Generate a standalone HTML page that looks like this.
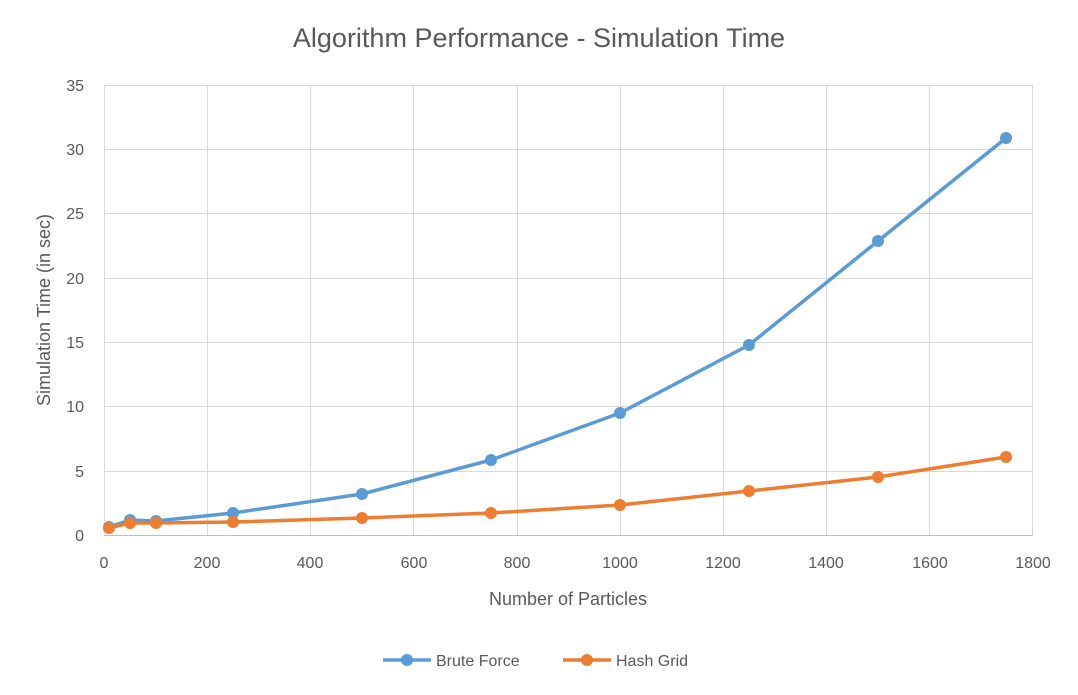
<!DOCTYPE html>
<html><head><meta charset="utf-8"><style>
html,body{margin:0;padding:0;background:#fff;}
svg{display:block;font-family:"Liberation Sans",sans-serif;}
</style></head><body>
<svg width="1078" height="695" viewBox="0 0 1078 695" xmlns="http://www.w3.org/2000/svg">
<rect width="1078" height="695" fill="#fff"/>
<text x="539" y="47" text-anchor="middle" font-size="27" fill="#595959">Algorithm Performance - Simulation Time</text>
<g stroke="#d9d9d9" stroke-width="1">
<line x1="104" y1="85.5" x2="1033" y2="85.5"/>
<line x1="104" y1="149.5" x2="1033" y2="149.5"/>
<line x1="104" y1="213.5" x2="1033" y2="213.5"/>
<line x1="104" y1="278.5" x2="1033" y2="278.5"/>
<line x1="104" y1="342.5" x2="1033" y2="342.5"/>
<line x1="104" y1="406.5" x2="1033" y2="406.5"/>
<line x1="104" y1="471.5" x2="1033" y2="471.5"/>
<line x1="207.5" y1="85" x2="207.5" y2="535"/>
<line x1="310.5" y1="85" x2="310.5" y2="535"/>
<line x1="413.5" y1="85" x2="413.5" y2="535"/>
<line x1="517.5" y1="85" x2="517.5" y2="535"/>
<line x1="620.5" y1="85" x2="620.5" y2="535"/>
<line x1="723.5" y1="85" x2="723.5" y2="535"/>
<line x1="826.5" y1="85" x2="826.5" y2="535"/>
<line x1="929.5" y1="85" x2="929.5" y2="535"/>
<line x1="1032.5" y1="85" x2="1032.5" y2="535"/>
<line x1="104.5" y1="85" x2="104.5" y2="535"/>
</g>
<line x1="104" y1="535.5" x2="1033" y2="535.5" stroke="#bfbfbf" stroke-width="1"/>
<g font-size="16" fill="#595959" text-anchor="end">
<text x="84" y="541">0</text><text x="84" y="477">5</text><text x="84" y="412">10</text>
<text x="84" y="348">15</text><text x="84" y="284">20</text><text x="84" y="219">25</text>
<text x="84" y="155">30</text><text x="84" y="91">35</text>
</g>
<g font-size="16" fill="#595959" text-anchor="middle">
<text x="104" y="568">0</text><text x="207" y="568">200</text><text x="310" y="568">400</text>
<text x="414" y="568">600</text><text x="517" y="568">800</text><text x="620" y="568">1000</text>
<text x="723" y="568">1200</text><text x="826" y="568">1400</text><text x="930" y="568">1600</text>
<text x="1033" y="568">1800</text>
</g>
<text x="568" y="605" text-anchor="middle" font-size="18" fill="#595959">Number of Particles</text>
<text transform="translate(50,310) rotate(-90)" text-anchor="middle" font-size="18" fill="#595959">Simulation  Time (in sec)</text>
<polyline fill="none" stroke="#5b9bd5" stroke-width="3.5" stroke-linejoin="round" points="109,527 130,520 156,521 233,513 362,494 491,460 620,413 749,345 878,241 1006,138"/>
<polyline fill="none" stroke="#ed7d31" stroke-width="3.5" stroke-linejoin="round" points="109,528 130,523 156,523 233,522 362,518 491,513 620,505 749,491 878,477 1006,457"/>
<g fill="#5b9bd5">
<circle cx="109" cy="527" r="6"/><circle cx="130" cy="520" r="6"/><circle cx="156" cy="521" r="6"/>
<circle cx="233" cy="513" r="6"/><circle cx="362" cy="494" r="6"/><circle cx="491" cy="460" r="6"/>
<circle cx="620" cy="413" r="6"/><circle cx="749" cy="345" r="6"/><circle cx="878" cy="241" r="6"/>
<circle cx="1006" cy="138" r="6"/>
</g>
<g fill="#ed7d31">
<circle cx="109" cy="528" r="6"/><circle cx="130" cy="523" r="6"/><circle cx="156" cy="523" r="6"/>
<circle cx="233" cy="522" r="6"/><circle cx="362" cy="518" r="6"/><circle cx="491" cy="513" r="6"/>
<circle cx="620" cy="505" r="6"/><circle cx="749" cy="491" r="6"/><circle cx="878" cy="477" r="6"/>
<circle cx="1006" cy="457" r="6"/>
</g>
<line x1="383" y1="660" x2="431" y2="660" stroke="#5b9bd5" stroke-width="3.5"/>
<circle cx="407" cy="660" r="6" fill="#5b9bd5"/>
<text x="436" y="666" font-size="16" fill="#595959">Brute Force</text>
<line x1="563" y1="660" x2="611" y2="660" stroke="#ed7d31" stroke-width="3.5"/>
<circle cx="587" cy="660" r="6" fill="#ed7d31"/>
<text x="616" y="666" font-size="16" fill="#595959">Hash Grid</text>
</svg>
</body></html>
